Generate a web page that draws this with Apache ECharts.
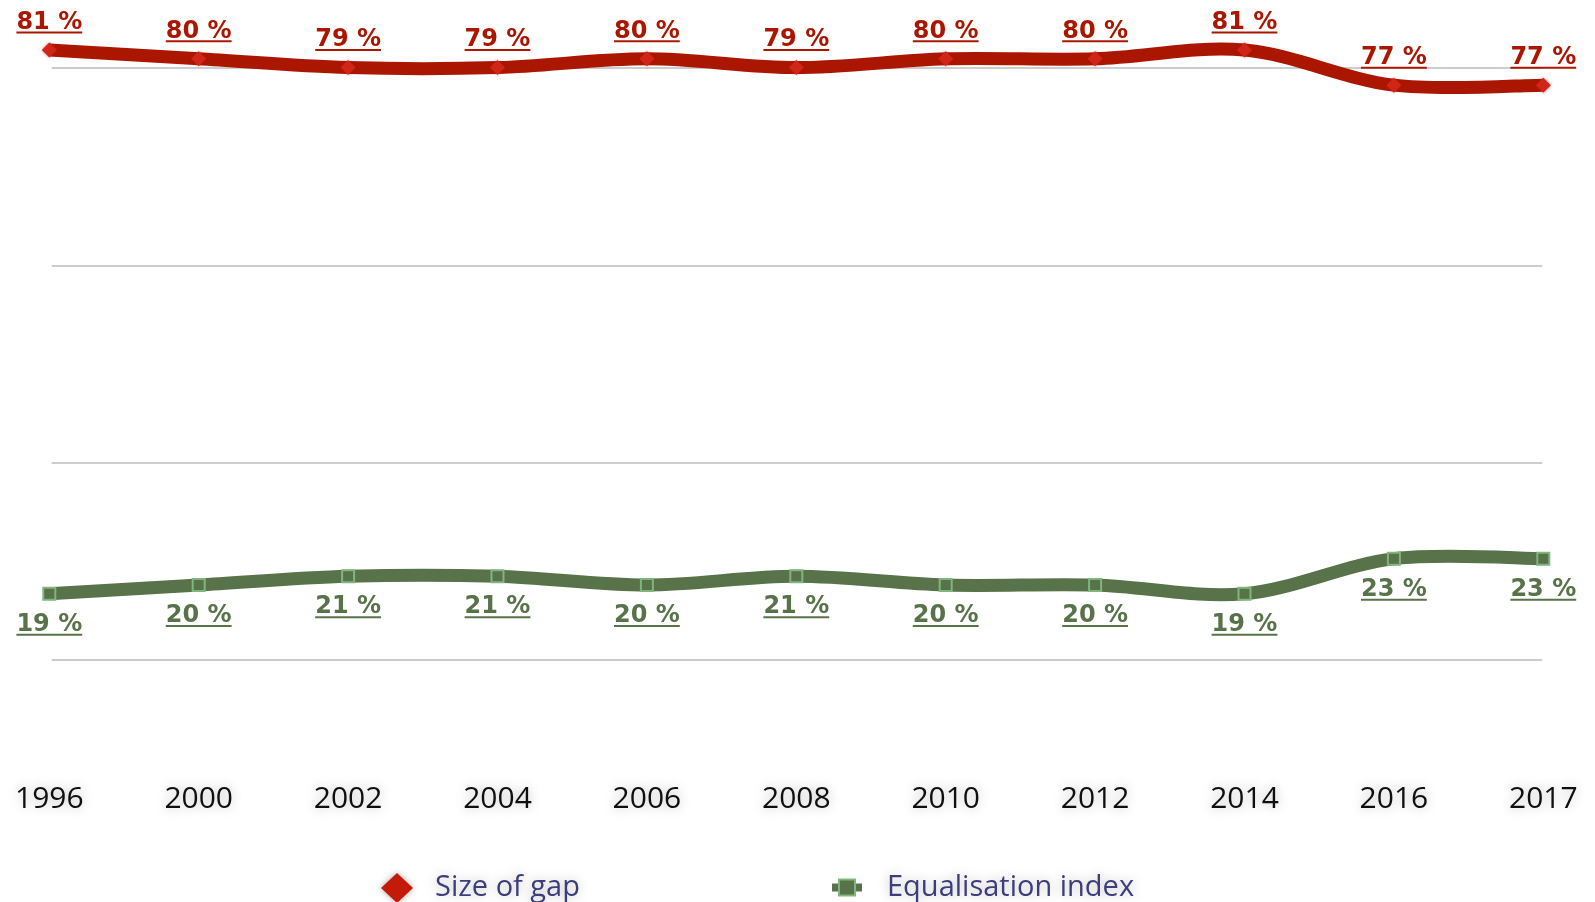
<!DOCTYPE html>
<html>
<head>
<meta charset="utf-8">
<script src="https://cdn.jsdelivr.net/npm/echarts@6/dist/echarts.min.js"></script>
<style>
  html, body { margin: 0; padding: 0; background: #ffffff; }
  #chart { width: 1595px; height: 902px; }
</style>
</head>
<body>
<div id="chart"></div>
<script>
// Survey years on the category axis
const years = ['1996', '2000', '2002', '2004', '2006', '2008', '2010', '2012', '2014', '2016', '2017'];
// Series values in percent
const sizeOfGap = [81, 80, 79, 79, 80, 79, 80, 80, 81, 77, 77];
const equalisationIndex = [19, 20, 21, 21, 20, 21, 20, 20, 19, 23, 23];
const seriesNames = ['Size of gap', 'Equalisation index'];

const RED = '#ab1600';
const RED_MARK = '#d0261a';
const GREEN = '#587249';
const GREEN_EDGE = '#80b57d';
const LABEL_FONT = 24;
const CURVE_WIDTH = 13;

// Value label; the second line repeats the text invisibly so that its
// background bar has exactly the text width and acts as an underline.
function valueLabel(color, position, distance) {
  return {
    show: true,
    position: position,
    distance: distance,
    formatter: p => '{v|' + p.value + ' %}\n{u|' + p.value + ' %}',
    rich: {
      v: {
        fontFamily: 'DejaVu Sans',
        fontWeight: 'bold',
        fontSize: LABEL_FONT,
        color: color,
        lineHeight: 18
      },
      u: {
        fontFamily: 'DejaVu Sans',
        fontWeight: 'bold',
        fontSize: LABEL_FONT,
        color: 'rgba(0,0,0,0)',
        height: 2,
        lineHeight: 2,
        backgroundColor: color
      }
    }
  };
}

// Smooth curve through every point (cardinal spline, Bezier form),
// positioned with the chart's own coordinate system.
function curveRenderer(values, color) {
  return function (params, api) {
    if (params.dataIndex !== 0) return null;
    const pts = values.map((v, i) => api.coord([i, v]));
    const n = pts.length;
    let d = 'M' + pts[0][0] + ' ' + pts[0][1];
    for (let i = 0; i < n - 1; i++) {
      const p0 = pts[Math.max(i - 1, 0)];
      const p1 = pts[i];
      const p2 = pts[i + 1];
      const p3 = pts[Math.min(i + 2, n - 1)];
      const c1x = p1[0] + (p2[0] - p0[0]) / 6;
      const c1y = p1[1] + (p2[1] - p0[1]) / 6;
      const c2x = p2[0] - (p3[0] - p1[0]) / 6;
      const c2y = p2[1] - (p3[1] - p1[1]) / 6;
      d += ' C' + c1x + ' ' + c1y + ' ' + c2x + ' ' + c2y + ' ' + p2[0] + ' ' + p2[1];
    }
    return {
      type: 'path',
      shape: { pathData: d },
      style: { fill: null, stroke: color, lineWidth: CURVE_WIDTH, lineJoin: 'round', lineCap: 'butt' }
    };
  };
}

const chart = echarts.init(document.getElementById('chart'), null, { renderer: 'canvas' });

chart.setOption({
  backgroundColor: '#ffffff',
  animation: false,
  grid: [
    // data grid
    { left: 49.3, right: 51.7, top: 15, bottom: 141.6, containLabel: false, outerBoundsMode: 'none' },
    // horizontal guide lines
    { left: 51.7, right: 52.7, top: 68, height: 592, containLabel: false, outerBoundsMode: 'none' }
  ],
  legend: [
    {
      data: [{ name: seriesNames[0], icon: 'diamond', itemStyle: { color: '#c41a0a', shadowBlur: 6, shadowColor: 'rgba(0,0,0,0.35)' } }],
      left: 376, top: 868,
      itemWidth: 32, itemHeight: 30,
      textStyle: {
        fontFamily: 'Open Sans', fontSize: 29, color: '#3d3d7c', padding: [0, 0, 0, 17],
        textShadowColor: 'rgba(0,0,0,0.28)', textShadowBlur: 12
      }
    },
    {
      data: [{ name: seriesNames[1] }],
      left: 823, top: 868,
      itemWidth: 30, itemHeight: 20,
      lineStyle: { width: 8, color: GREEN, opacity: 1 },
      textStyle: {
        fontFamily: 'Open Sans', fontSize: 29, color: '#3d3d7c', padding: [0, 0, 0, 20],
        textShadowColor: 'rgba(0,0,0,0.28)', textShadowBlur: 12
      }
    }
  ],
  xAxis: [
    {
      type: 'category',
      gridIndex: 0,
      data: years,
      boundaryGap: false,
      axisLine: { show: false },
      axisTick: { show: false },
      splitLine: { show: false },
      axisLabel: {
        interval: 0,
        margin: 24,
        fontFamily: 'Open Sans',
        fontSize: 30,
        lineHeight: 30,
        color: '#0f0f0f',
        textShadowColor: 'rgba(0,0,0,0.28)',
        textShadowBlur: 12
      }
    },
    { type: 'value', gridIndex: 1, min: 0, max: 1, show: false }
  ],
  yAxis: [
    {
      type: 'value',
      gridIndex: 0,
      min: 0,
      max: 85,
      show: false,
      splitLine: { show: false }
    },
    {
      type: 'value',
      gridIndex: 1,
      min: 0,
      max: 3,
      interval: 1,
      axisLine: { show: false },
      axisTick: { show: false },
      axisLabel: { show: false },
      splitLine: { show: true, lineStyle: { color: '#cdcdcd', width: 2 } }
    }
  ],
  series: [
    {
      name: 'gap-curve',
      type: 'custom',
      xAxisIndex: 0,
      yAxisIndex: 0,
      data: sizeOfGap,
      renderItem: curveRenderer(sizeOfGap, RED),
      silent: true,
      z: 2
    },
    {
      name: 'index-curve',
      type: 'custom',
      xAxisIndex: 0,
      yAxisIndex: 0,
      data: equalisationIndex,
      renderItem: curveRenderer(equalisationIndex, GREEN),
      silent: true,
      z: 2
    },
    {
      name: seriesNames[0],
      type: 'line',
      xAxisIndex: 0,
      yAxisIndex: 0,
      data: sizeOfGap,
      symbol: 'diamond',
      symbolSize: 15,
      lineStyle: { width: 0 },
      itemStyle: { color: RED_MARK, shadowBlur: 3, shadowColor: 'rgba(200,20,10,0.6)' },
      label: valueLabel(RED, 'top', 9),
      z: 3
    },
    {
      name: seriesNames[1],
      type: 'line',
      xAxisIndex: 0,
      yAxisIndex: 0,
      data: equalisationIndex,
      symbol: 'rect',
      symbolSize: 12,
      lineStyle: { width: 0, color: GREEN },
      itemStyle: { color: GREEN, borderColor: GREEN_EDGE, borderWidth: 2 },
      label: valueLabel(GREEN, 'bottom', 15),
      z: 3
    }
  ]
});
</script>
</body>
</html>
